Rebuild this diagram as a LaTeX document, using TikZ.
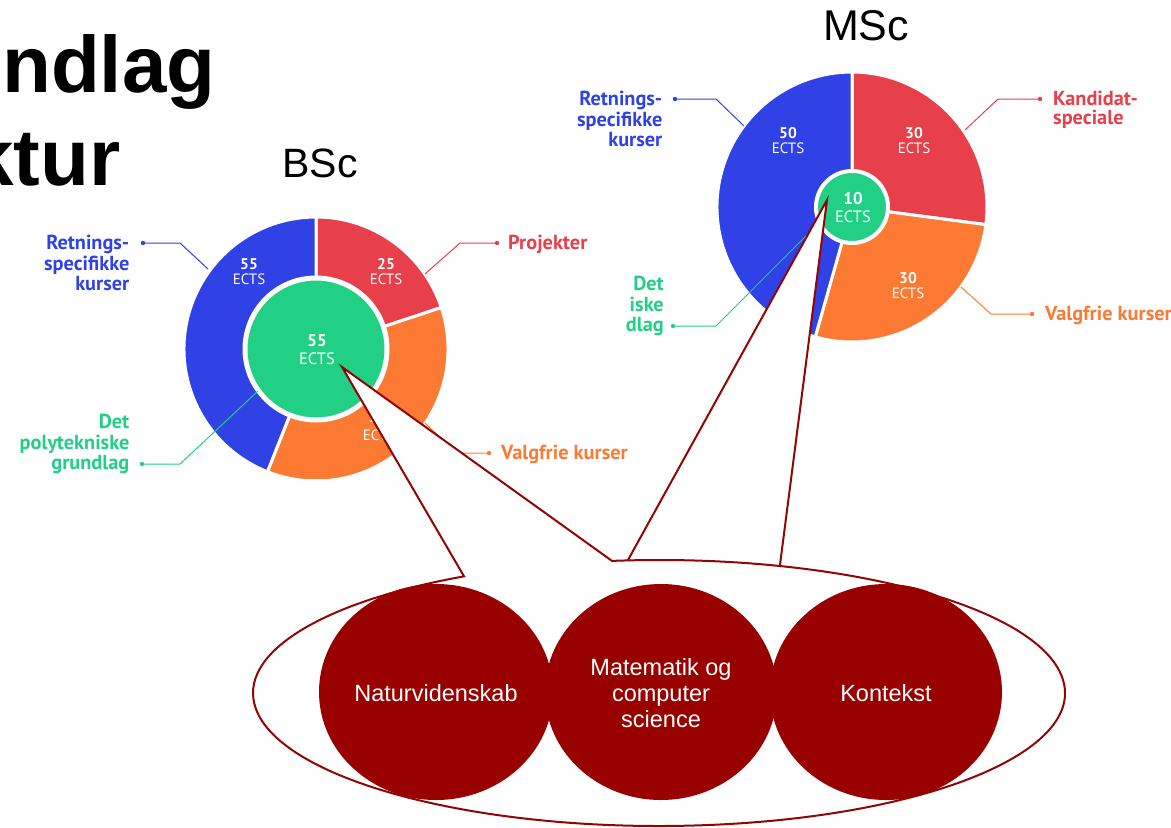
\documentclass[tikz,border=0pt]{standalone}
\usepackage{fontspec}
\setmainfont{Liberation Sans}
\newfontfamily\ptsans{PT Sans}
\definecolor{cblue}{RGB}{48,65,230}
\definecolor{cred}{RGB}{232,64,74}
\definecolor{corange}{RGB}{253,122,52}
\definecolor{cgreen}{RGB}{34,208,133}
\definecolor{cball}{RGB}{153,0,0}
\definecolor{cdark}{RGB}{145,5,5}
\begin{document}
\begin{tikzpicture}[x=1pt,y=-1pt,
  seg/.style={draw=white,line width=3pt,line join=round},
  num/.style={text=white,inner sep=0pt,anchor=base,font=\ptsans\bfseries\fontsize{15.5}{15.5}\selectfont},
  ects/.style={text=white,inner sep=0pt,anchor=base,font=\ptsans\fontsize{15}{15}\selectfont},
  bignum/.style={text=white,inner sep=0pt,anchor=base,font=\ptsans\bfseries\fontsize{17}{17}\selectfont},
  bigects/.style={text=white,inner sep=0pt,anchor=base,font=\ptsans\fontsize{16.5}{16.5}\selectfont},
  lab/.style={inner sep=0pt,font=\ptsans\bfseries\fontsize{20.3}{20.5}\selectfont},
  labtight/.style={inner sep=0pt,font=\ptsans\bfseries\fontsize{20.3}{19}\selectfont},
  leader/.style={line width=1pt},
  callout/.style={draw=cdark,line width=2pt,fill=white,line join=miter},
  bubble/.style={fill=cball},
  bubtext/.style={text=white,inner sep=0pt,font=\fontsize{23.5}{26}\selectfont,align=center}]
\useasboundingbox (0,0) rectangle (1171,828);

% ---------- title fragments ----------
\node[anchor=base west,inner sep=0pt,font=\bfseries\fontsize{80}{80}\selectfont] (t1) at (2,92) {ndlag};
\node[anchor=base west,inner sep=0pt,font=\bfseries\fontsize{80}{80}\selectfont] (t2) at (-31,185) {ktur};
\node[anchor=base,inner sep=0pt,font=\fontsize{41}{41}\selectfont] (bsc) at (320,177) {BSc};
\node[anchor=base,inner sep=0pt,font=\fontsize{43}{43}\selectfont] (msc) at (866,40) {MSc};

% ---------- BSc pie ----------
\coordinate (bc) at (316,349);
\begin{scope}
  \clip (150,200) rectangle (480,478);
  \fill[cred,seg] (bc) -- ++(-90:132) arc[start angle=-90,end angle=-18.3,radius=132] -- cycle;
  \fill[corange,seg] (bc) -- ++(-18.3:132) arc[start angle=-18.3,end angle=111.6,radius=132] -- cycle;
  \fill[cblue,seg] (bc) -- ++(111.6:132) arc[start angle=111.6,end angle=270,radius=132] -- cycle;
\end{scope}
\filldraw[fill=cgreen,draw=white,line width=5pt] (bc) circle[radius=71];
\node[num] (bbn) at (249,269) {55};
\node[ects] (bbe) at (249,284) {ECTS};
\node[num] (brn) at (386,269) {25};
\node[ects] (bre) at (386,284) {ECTS};
\node[num] (bon) at (379,425) {45};
\node[ects] (boe) at (379,440) {ECTS};
\node[bignum] (bgn) at (317,346) {55};
\node[bigects] (bge) at (317,364) {ECTS};

% ---------- BSc labels and leaders ----------
\node[lab,text=cblue,align=right,anchor=north east] (bretl) at (129.5,235) {Retnings-\\specifikke\\kurser};
\node[lab,text=cgreen,align=right,anchor=north east] (bdetl) at (129.5,414) {Det\\polytekniske\\grundlag};
\node[lab,text=cred,anchor=base west] (bprol) at (508,249) {Projekter};
\node[lab,text=corange,anchor=base west] (bvall) at (501,459) {Valgfrie kurser};

\coordinate (bbd) at (143,243); \coordinate (bbk) at (180,243); \coordinate (bbp) at (208,269);
\coordinate (brd) at (497,243); \coordinate (brk) at (460,243); \coordinate (brp) at (425,274);
\coordinate (bgd) at (142,464); \coordinate (bgk) at (180,464); \coordinate (bgp) at (258,391);
\coordinate (bod) at (489,453); \coordinate (bok) at (456,453); \coordinate (bop) at (425,423);
\draw[leader,cblue] (bbd) -- (bbk) -- (bbp);   \fill[cblue] (bbd) circle[radius=2.2];
\draw[leader,cred] (brd) -- (brk) -- (brp);    \fill[cred] (brd) circle[radius=2.2];
\draw[leader,cgreen] (bgd) -- (bgk) -- (bgp);  \fill[cgreen] (bgd) circle[radius=2.2];
\draw[leader,corange] (bod) -- (bok) -- (bop); \fill[corange] (bod) circle[radius=2.2];

% ---------- MSc pie ----------
\coordinate (mc) at (852,207);
\fill[cred,seg] (mc) -- ++(-90:135) arc[start angle=-90,end angle=7.5,radius=135] -- cycle;
\fill[corange,seg] (mc) -- ++(7.5:135) arc[start angle=7.5,end angle=105.8,radius=135] -- cycle;
\fill[cblue,seg] (mc) -- ++(105.8:135) arc[start angle=105.8,end angle=270,radius=135] -- cycle;
\filldraw[fill=cgreen,draw=white,line width=4pt] (mc) circle[radius=36];
\node[num] (mbn) at (788,138) {50};
\node[ects] (mbe) at (788,153) {ECTS};
\node[num] (mrn) at (914,138) {30};
\node[ects] (mre) at (914,153) {ECTS};
\node[num] (mon) at (908,283) {30};
\node[ects] (moe) at (908,298) {ECTS};
\node[bignum] (mgn) at (853,204) {10};
\node[bigects] (mge) at (853,222) {ECTS};

% ---------- MSc labels and leaders ----------
\node[lab,text=cblue,align=right,anchor=north east] (mretl) at (662.5,91) {Retnings-\\specifikke\\kurser};
\node[labtight,text=cred,align=left,anchor=north west] (mkanl) at (1053,91) {Kandidat-\\speciale};
\node[lab,text=corange,anchor=base west] (mvall) at (1045,320) {Valgfrie kurser};
\node[lab,text=cgreen,align=right,anchor=north east] (mdetl) at (664,276) {Det\\iske\\dlag};

\coordinate (mbd) at (675,99);  \coordinate (mbk) at (716,99);  \coordinate (mbp) at (744,126);
\coordinate (mrd) at (1040,99); \coordinate (mrk) at (998,99);  \coordinate (mrp) at (965,130);
\coordinate (mod) at (1032,314);\coordinate (mok) at (991,314); \coordinate (mop) at (961,287);
\coordinate (mgd) at (673,326); \coordinate (mgk) at (716,326); \coordinate (mgp) at (809,233);
\draw[leader,cblue] (mbd) -- (mbk) -- (mbp);   \fill[cblue] (mbd) circle[radius=2.2];
\draw[leader,cred] (mrd) -- (mrk) -- (mrp);    \fill[cred] (mrd) circle[radius=2.2];
\draw[leader,corange] (mod) -- (mok) -- (mop); \fill[corange] (mod) circle[radius=2.2];
\draw[leader,cgreen] (mgd) -- (mgk) -- (mgp);  \fill[cgreen] (mgd) circle[radius=2.2];

% ---------- callouts ----------
\coordinate (bsctip) at (342,367);
\coordinate (msctip) at (827,200);
\coordinate (ec) at (659,693);
\coordinate (mbl) at (619.7,575);
\coordinate (mbr) at (777.4,585);
\filldraw[callout] (msctip) -- (mbl) -- (mbr) -- cycle;
\filldraw[callout] (ec) ++(-96.65:406 and 133) coordinate (cb2)
   arc[start angle=-96.65,end angle=241.3,x radius=406,y radius=133] coordinate (cb1)
   -- (bsctip) -- cycle;

% ---------- three circles ----------
\fill[bubble] (436,692) ellipse[x radius=117,y radius=108];
\fill[bubble] (661,692) ellipse[x radius=116,y radius=108];
\fill[bubble] (886,692) ellipse[x radius=116,y radius=108];
\node[bubtext,anchor=base] (nat) at (436,701) {Naturvidenskab};
\node[bubtext] (mat) at (661,693) {Matematik og\\computer\\science};
\node[bubtext,anchor=base] (kon) at (886,701) {Kontekst};
\end{tikzpicture}
\end{document}
